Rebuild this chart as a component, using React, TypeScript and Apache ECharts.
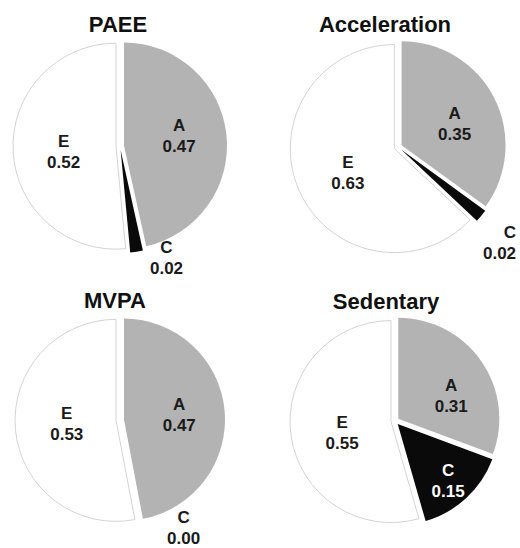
import React, { useEffect, useRef } from "react";
import * as echarts from "echarts";

const categories = ["A", "C", "E"];
const paee = [0.47, 0.02, 0.52];
const acceleration = [0.35, 0.02, 0.63];
const mvpa = [0.47, 0.0, 0.53];
const sedentary = [0.31, 0.15, 0.55];
const titles = ["PAEE", "Acceleration", "MVPA", "Sedentary"];

const FONT = "'Liberation Sans', Arial, Helvetica, sans-serif";
const sliceColors = ["#b3b3b3", "#0a0a0a", "#ffffff"];
const textColor = "#1a1a1a";

const labelFont = {
  fontFamily: FONT,
  fontWeight: "bold",
  fontSize: 17,
  lineHeight: 21,
  color: textColor,
};

type CMode =
  | { kind: "inside" }
  | { kind: "outside"; length: number; length2: number }
  | { kind: "edge"; length: number; edgeDistance: number };

const fmtVal = (v: any) => Number(v).toFixed(2);

function makeSeries(
  values: number[],
  center: [number, number],
  radius: number,
  cMode: CMode,
  nudges: Record<number, { dx: number; dy: number }>
) {
  return {
    type: "pie",
    center,
    radius,
    startAngle: 90,
    clockwise: true,
    selectedMode: "multiple",
    selectedOffset: 4,
    avoidLabelOverlap: false,
    emphasis: { disabled: true },
    label: {
      show: true,
      position: "inside",
      ...labelFont,
      formatter: (p: any) => `${p.name}\n${fmtVal(p.value)}`,
    },
    labelLine: { show: false },
    labelLayout: (p: any) => nudges[p.dataIndex] || {},
    data: categories.map((name, i) => {
      const item: any = {
        name,
        value: values[i],
        selected: true,
        itemStyle:
          i === 2
            ? { color: sliceColors[i], borderColor: "#d4d4d4", borderWidth: 1 }
            : { color: sliceColors[i], borderWidth: 0 },
      };
      if (i === 1) {
        if (cMode.kind === "inside") {
          item.label = { position: "inside", color: "#ffffff" };
        } else if (cMode.kind === "outside") {
          item.label = {
            position: "outside",
            color: textColor,
            formatter: (p: any) => `{n|${p.name}}\n{v|${fmtVal(p.value)}}`,
            rich: {
              n: { ...labelFont, width: 36, align: "center" },
              v: { ...labelFont, width: 36, align: "center" },
            },
          };
          item.labelLine = { show: false, length: cMode.length, length2: cMode.length2 };
        } else {
          item.label = {
            position: "outside",
            color: textColor,
            alignTo: "edge",
            edgeDistance: cMode.edgeDistance,
          };
          item.labelLine = { show: false, length: cMode.length, length2: 0 };
        }
      }
      return item;
    }),
  };
}

export default function App() {
  const ref = useRef<HTMLDivElement>(null);
  useEffect(() => {
    if (!ref.current) return;
    const chart = echarts.init(ref.current, null, { renderer: "svg" });
    const titlePos: [number, number][] = [
      [118, 13],
      [385, 13],
      [115, 289],
      [386, 290],
    ];
    chart.setOption({
      animation: false,
      backgroundColor: "#ffffff",
      title: titles.map((t, i) => ({
        text: t,
        left: titlePos[i][0],
        top: titlePos[i][1],
        textAlign: "center",
        padding: 0,
        textStyle: {
          fontFamily: FONT,
          fontWeight: "bold",
          fontSize: 22,
          color: "#111111",
        },
      })),
      series: [
        makeSeries(paee, [120, 146], 103, { kind: "outside", length: 6, length2: 6 }, {
          0: { dx: 1, dy: -4 },
          2: { dx: 2, dy: 3 },
        }),
        makeSeries(acceleration, [398, 147], 104, { kind: "edge", length: 42, edgeDistance: 7 }, {
          0: { dx: 4, dy: 4 },
          2: { dx: 4, dy: 3 },
        }),
        makeSeries(mvpa, [120, 420], 101, { kind: "outside", length: 5, length2: 20 }, {
          0: { dx: 2, dy: 0 },
          2: { dx: 4, dy: -1 },
        }),
        makeSeries(sedentary, [395, 421], 101, { kind: "inside" }, {
          0: { dx: 9, dy: 8 },
          1: { dx: 14, dy: 18 },
          2: { dx: 4, dy: 4 },
        }),
      ],
    });
    return () => chart.dispose();
  }, []);
  return (
    <div
      ref={ref}
      style={{ position: "fixed", left: 0, top: 0, width: 520, height: 548, background: "#fff" }}
    />
  );
}
